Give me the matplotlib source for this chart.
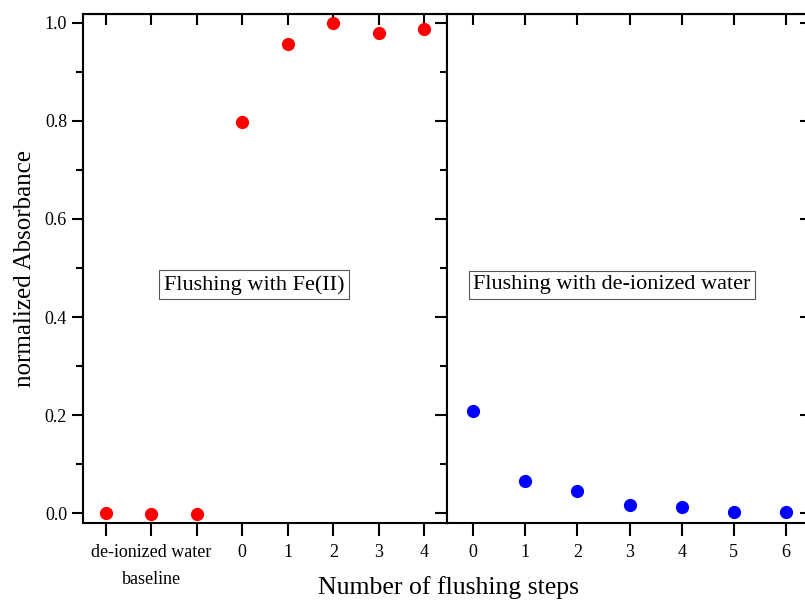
import numpy as np
import matplotlib
matplotlib.use("Agg")
import matplotlib.pyplot as plt
from matplotlib.ticker import MultipleLocator, FormatStrFormatter

plt.rcParams["font.family"] = ["Liberation Serif", "DejaVu Serif"]

# left panel: baseline (3 reps) then Fe(II) flushing steps 0..4
fe_labels = ["", "de-ionized water\nbaseline", "", "0", "1", "2", "3", "4"]
fe_values = [0.0, -0.001, -0.002, 0.798, 0.957, 0.999, 0.979, 0.988]
# right panel: water flushing steps 0..6
w_labels = ["0", "1", "2", "3", "4", "5", "6"]
w_values = [0.209, 0.065, 0.045, 0.016, 0.012, 0.003, 0.003]

W, H = 805, 601
fig = plt.figure(figsize=(W / 100, H / 100), dpi=100)
axL = fig.add_axes([83 / W, (H - 523) / H, 364 / W, 509 / H])
axR = fig.add_axes([447 / W, (H - 523) / H, 365 / W, 509 / H], sharey=axL)

xl = np.arange(len(fe_values))
xr = np.arange(len(w_values))
axL.plot(xl, fe_values, "o", color="#ff0000", ms=9.5, mec="none", clip_on=False)
axR.plot(xr, w_values, "o", color="#0000ff", ms=9.5, mec="none", clip_on=False)

axL.set_xlim(-0.5, len(fe_values) - 0.5)
axR.set_xlim(-0.5, len(w_values) - 0.5)
axL.set_ylim(-0.02, 1.018)

axL.set_xticks(xl, fe_labels)
axR.set_xticks(xr, w_labels)
for lab in axL.get_xticklabels():
    lab.set_linespacing(1.75)
    if "\n" in lab.get_text():
        lab.set_fontsize(11.5)

axL.yaxis.set_major_locator(MultipleLocator(0.2))
axL.yaxis.set_minor_locator(MultipleLocator(0.1))
axL.yaxis.set_major_formatter(FormatStrFormatter("%.1f"))

for ax, xs in ((axL, xl), (axR, xr)):
    for s in ax.spines.values():
        s.set_linewidth(1.5)
    ax.tick_params(axis="x", which="both", bottom=True, top=False, direction="out",
                   length=9, width=1.5, labelsize=13, pad=6)
    top = ax.secondary_xaxis("top")
    top.set_xticks(xs, [""] * len(xs))
    top.tick_params(direction="in", length=8, width=1.5)
    right = ax.secondary_yaxis("right")
    right.set_yticks([0, 0.2, 0.4, 0.6, 0.8, 1.0], [""] * 6)
    right.set_yticks(np.arange(0.1, 1.0, 0.2), minor=True)
    right.tick_params(which="major", direction="in", length=9, width=1.5)
    right.tick_params(which="minor", direction="in", length=5, width=1.5)

axL.tick_params(axis="y", which="major", direction="out", length=8, width=1.5,
                labelsize=13, right=False)
axL.tick_params(axis="y", which="minor", direction="out", length=5, width=1.5,
                right=False)
axR.tick_params(axis="y", which="both", left=False, right=False, labelleft=False)

axL.set_ylabel("normalized Absorbance", fontsize=18, labelpad=6)
fig.text(448 / W, 1 - 588 / H, "Number of flushing steps", fontsize=18.5,
         ha="center", va="center")

box = dict(boxstyle="square,pad=0.2", fc="white", ec="#555555", lw=0.8)
axL.text(0.47, 0.468, "Flushing with Fe(II)", transform=axL.transAxes,
         ha="center", va="center", fontsize=16, bbox=box)
axR.text(0.452, 0.468, "Flushing with de-ionized water", transform=axR.transAxes,
         ha="center", va="center", fontsize=16, bbox=box)

fig.savefig("out.png", dpi=100)
